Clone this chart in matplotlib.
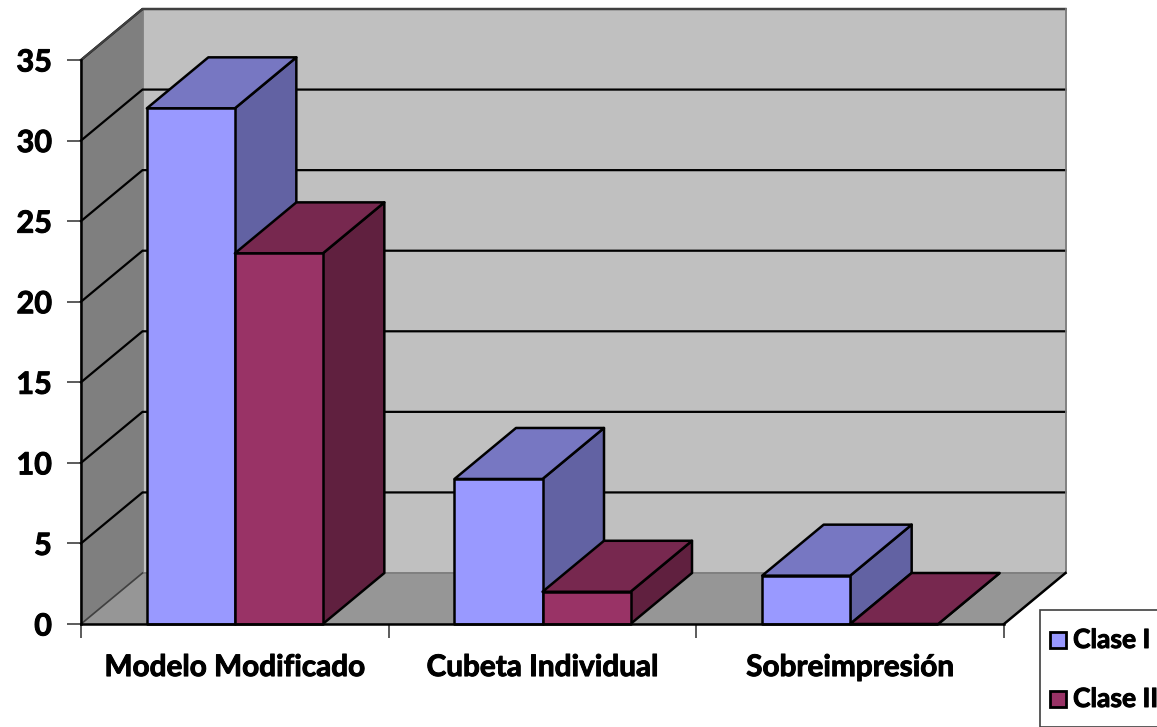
import matplotlib
matplotlib.use('Agg')
import matplotlib.pyplot as plt
import matplotlib.patheffects as pe
from matplotlib.patches import Polygon, Rectangle

categories = ['Modelo Modificado', 'Cubeta Individual', 'Sobreimpresión']
clase_1 = [32, 9, 3]
clase_2 = [23, 2, 0]
y_ticks = [0, 5, 10, 15, 20, 25, 30, 35]

W, H = 1157, 727
# front plane of the 3d box, in pixels
left, right, bottom, top = 81, 1004, 624, 60
dx_px, dy_px = 61.5, 51

plt.rcParams['font.family'] = ['Lato', 'DejaVu Sans']
plt.rcParams['font.weight'] = 'bold'
heavy = [pe.withStroke(linewidth=0.7, foreground='black')]

fig = plt.figure(figsize=(W / 100, H / 100), dpi=100)
ax = fig.add_axes([left / W, 1 - bottom / H, (right - left) / W, (bottom - top) / H])
ax.set_xlim(0, 3)
ax.set_ylim(0, 35)
ax.patch.set_visible(False)
for s in ax.spines.values():
    s.set_visible(False)

# depth offset in data units
dx = dx_px / ((right - left) / 3)
dy = dy_px / ((bottom - top) / 35)
bar_w = 88 / ((right - left) / 3)
gap = (1 - 2 * bar_w) / 2


def poly(pts, face, edge='black', lw=1.8, z=1):
    ax.add_patch(Polygon(pts, closed=True, facecolor=face, edgecolor=edge, linewidth=lw,
                         joinstyle='round', clip_on=False, zorder=z))


# back wall, side wall, floor
poly([(0 + dx, dy), (3 + dx, dy), (3 + dx, 35 + dy), (0 + dx, 35 + dy)], '#c0c0c0', edge='#808080', lw=1.2, z=1)
poly([(0, 0), (dx, dy), (dx, 35 + dy), (0, 35)], '#7f7f7f', edge='#808080', lw=1.2, z=1)
poly([(0, 0), (3, 0), (3 + dx, dy), (dx, dy)], '#969696', edge='#808080', lw=1.2, z=1)

# gridlines run across side wall and back wall
for v in y_ticks[1:]:
    ax.plot([0, dx, 3 + dx], [v, v + dy, v + dy], color='black', lw=1.6, clip_on=False, zorder=2,
            solid_joinstyle='miter')
ax.plot([dx, 3 + dx], [dy, dy], color='#808080', lw=1.2, clip_on=False, zorder=2)
# box outline
ax.plot([0, dx, 3 + dx], [35, 35 + dy, 35 + dy], color='#404040', lw=1.6, clip_on=False, zorder=2)
ax.plot([3 + dx, 3 + dx], [dy, 35 + dy], color='#808080', lw=1.2, clip_on=False, zorder=2)
ax.plot([0, dx], [0, dy], color='#404040', lw=1.2, clip_on=False, zorder=2)
ax.plot([3, 3 + dx], [0, dy], color='black', lw=1.8, clip_on=False, zorder=2)
ax.plot([0, 0], [0, 35], color='black', lw=1.8, clip_on=False, zorder=2)
ax.plot([0, 3], [0, 0], color='black', lw=1.8, clip_on=False, zorder=8)


def bar3d(x, v, front, top_c, side, z):
    poly([(x, 0), (x + bar_w, 0), (x + bar_w, v), (x, v)], front, z=z + 0.2)
    poly([(x, v), (x + bar_w, v), (x + bar_w + dx, v + dy), (x + dx, v + dy)], top_c, z=z + 0.1)
    poly([(x + bar_w, 0), (x + bar_w + dx, dy), (x + bar_w + dx, v + dy), (x + bar_w, v)], side, z=z)


for i in range(len(categories)):
    x = i + gap
    bar3d(x, clase_1[i], '#9999ff', '#7777c2', '#6262a3', 3 + i)
    bar3d(x + bar_w, clase_2[i], '#993366', '#77284f', '#60203f', 3.5 + i)

ax.set_yticks(y_ticks)
ax.set_yticklabels([str(v) for v in y_ticks], fontsize=22, fontweight='bold', path_effects=heavy)
ax.tick_params(axis='y', length=10, width=1.2, color='#404040', pad=11)
ax.set_xticks([0, 1, 2, 3])
ax.set_xticklabels([])
ax.tick_params(axis='x', length=10, width=1.2, color='#404040')
for i, c in enumerate(categories):
    ax.annotate(c, (i + 0.5, 0), xytext=(0, -31), textcoords='offset points', ha='center', va='center',
                fontsize=21.4, fontweight='bold', annotation_clip=False, path_effects=heavy)

# legend box runs off the right edge of the picture
fig.add_artist(Rectangle((1040 / W, 0), 130 / W, (727 - 610) / H, transform=fig.transFigure,
                         facecolor='white', edgecolor='#404040', linewidth=1.2))
for label, color, py in [('Clase I', '#9999ff', 640), ('Clase II', '#993366', 699)]:
    fig.add_artist(Rectangle((1050 / W, 1 - (py + 8) / H), 16 / W, 16 / H, transform=fig.transFigure,
                             facecolor=color, edgecolor='black', linewidth=2))
    fig.text(1073 / W, 1 - py / H, label, fontsize=19, fontweight='bold', va='center', ha='left',
             path_effects=heavy)

fig.savefig('out.png', dpi=100)
